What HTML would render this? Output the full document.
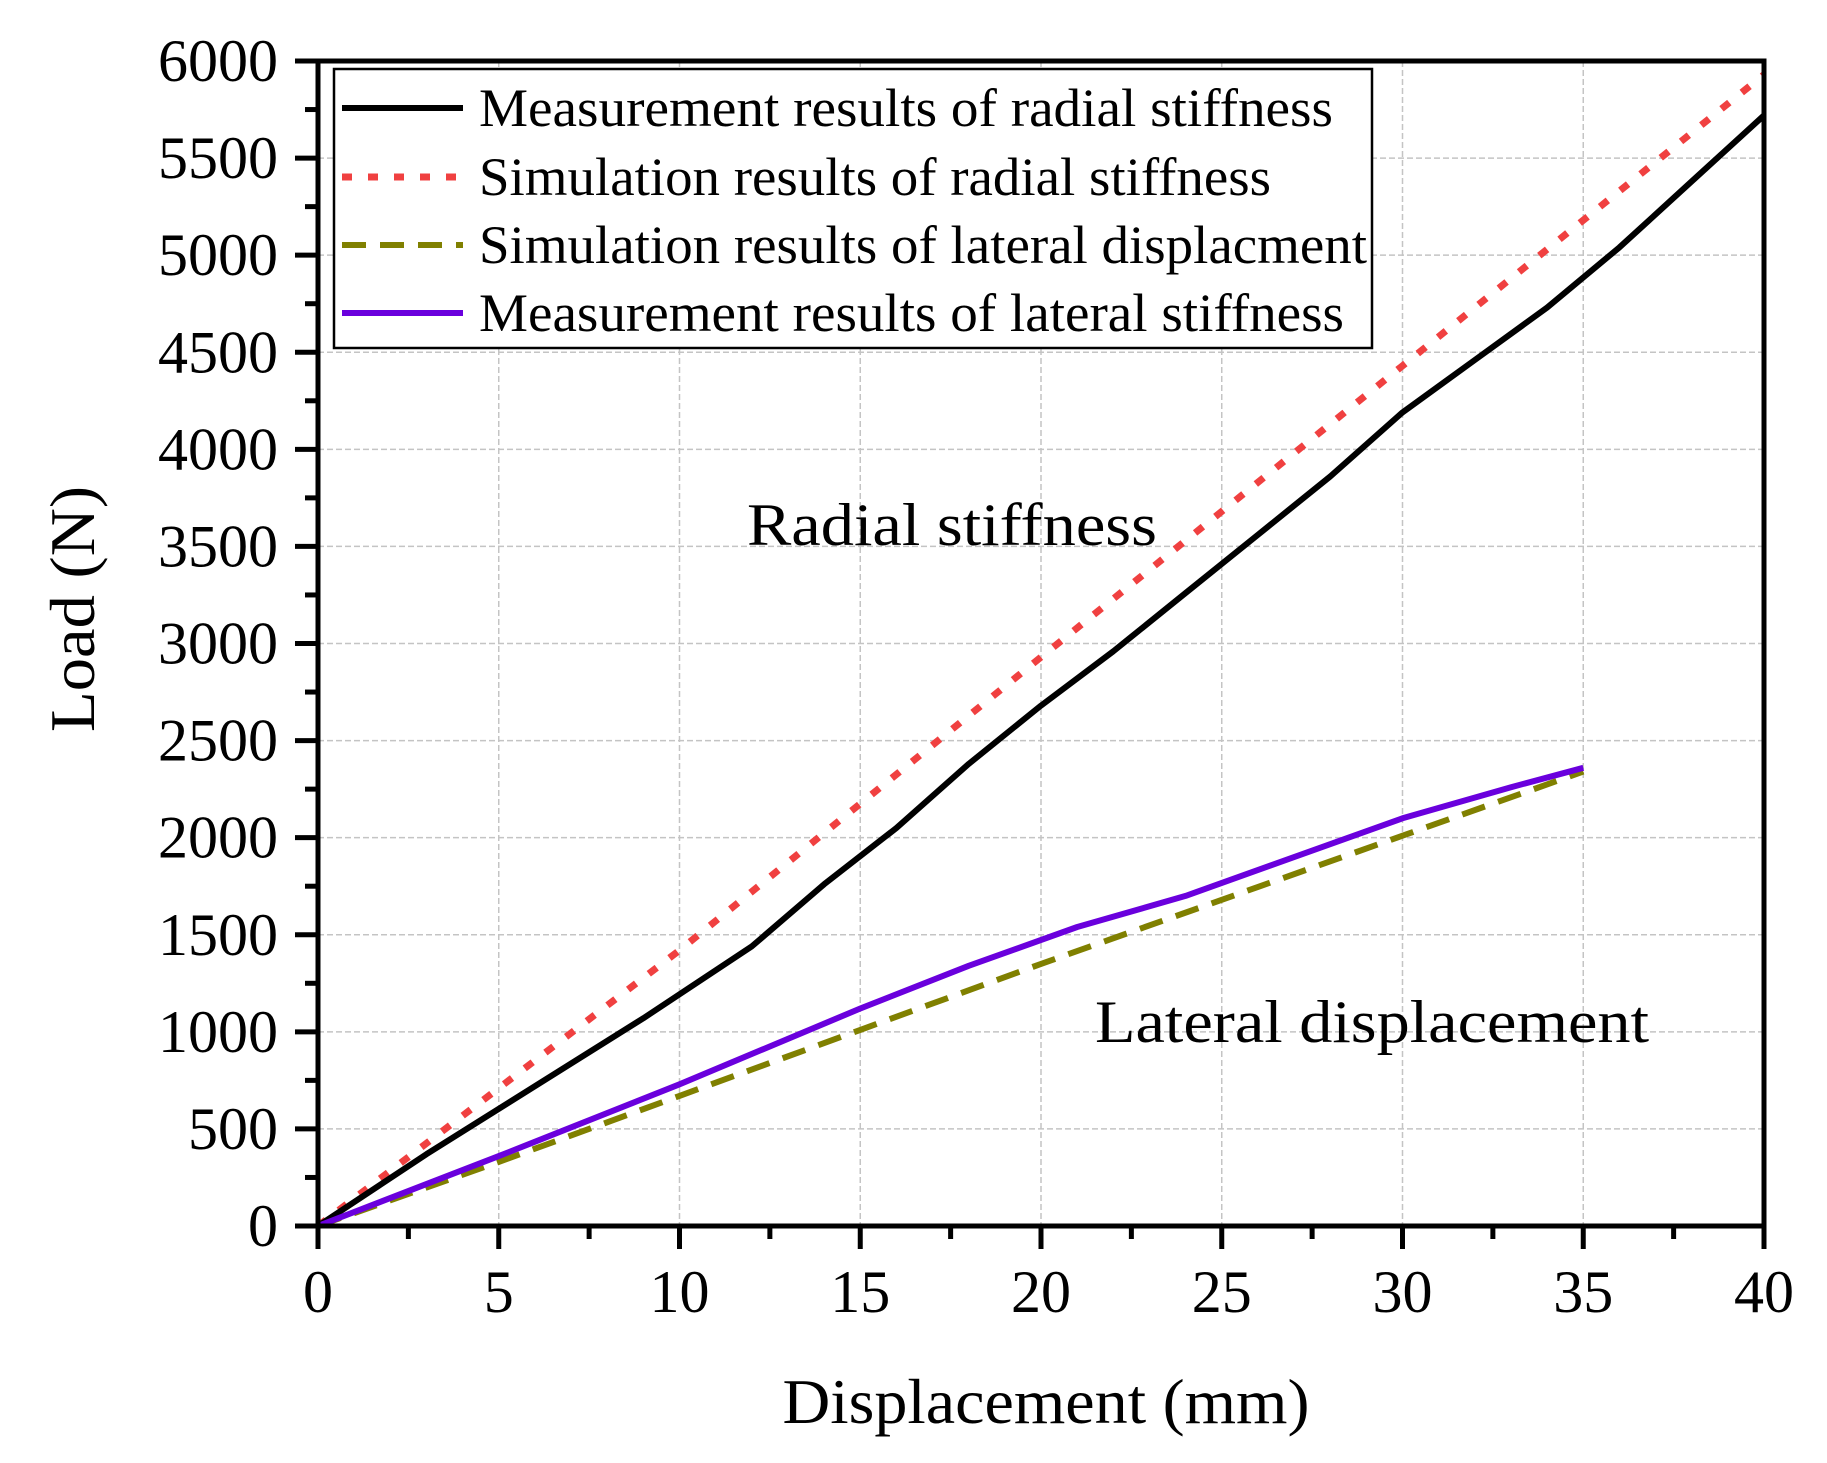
<!DOCTYPE html>
<html><head><meta charset="utf-8"><style>
html,body{margin:0;padding:0;background:#fff;}
svg{display:block;font-family:"Liberation Serif",serif;}
</style></head><body>
<svg id="chart" width="1827" height="1463" viewBox="0 0 1827 1463">
<g id="grid"></g>
<g id="series"></g>
<g id="axes"></g>
<g id="legend"></g>
<text x="747" y="545" font-size="60" textLength="410" lengthAdjust="spacingAndGlyphs">Radial stiffness</text>
<text x="1095" y="1042" font-size="60" textLength="554" lengthAdjust="spacingAndGlyphs">Lateral displacement</text>
<text x="1046" y="1423" font-size="64" text-anchor="middle" textLength="527" lengthAdjust="spacingAndGlyphs">Displacement (mm)</text>
<text transform="translate(94,609) rotate(-90)" font-size="64" text-anchor="middle" textLength="246" lengthAdjust="spacingAndGlyphs">Load (N)</text>
</svg>
<script>
const xTicks=[0,5,10,15,20,25,30,35,40];
const yTicks=[0,500,1000,1500,2000,2500,3000,3500,4000,4500,5000,5500,6000];
const radMeasX=[0,3,6,9,12,14,16,18,20,22,24,26,28,30,32,34,36,38,40];
const radMeasY=[0,370,720,1070,1440,1760,2050,2380,2680,2960,3260,3560,3860,4190,4460,4730,5040,5380,5720];
const radSimX=[0,10,20,30,40];
const radSimY=[0,1420,2930,4430,5930];
const latSimX=[0,5,10,15,20,25,30,35];
const latSimY=[0,330,670,1010,1350,1680,2010,2340];
const latMeasX=[0,5,10,15,18,21,24,27,30,33,35];
const latMeasY=[0,360,730,1120,1340,1540,1700,1900,2100,2260,2360];
const legendLabels=["Measurement results of radial stiffness","Simulation results of radial stiffness","Simulation results of lateral displacment","Measurement results of lateral stiffness"];

const L=318,R=1764,T=61,B=1226;
const sx=v=>L+(v-0)/(40-0)*(R-L);
const sy=v=>B-(v-0)/(6000-0)*(B-T);
const NS="http://www.w3.org/2000/svg";
function mk(tag,attrs,parent){const e=document.createElementNS(NS,tag);for(const k in attrs)e.setAttribute(k,attrs[k]);parent.appendChild(e);return e;}
const grid=document.getElementById('grid'),axes=document.getElementById('axes'),series=document.getElementById('series'),legend=document.getElementById('legend');

xTicks.forEach((t,i)=>{
  if(i>0&&i<xTicks.length-1){const g=mk('line',{x1:sx(t),x2:sx(t),y1:T,y2:B,stroke:'#c4c4c4','stroke-width':1.5,'stroke-dasharray':'6 3'},grid);
  
  }
  const tk=mk('line',{x1:sx(t),x2:sx(t),y1:B,y2:B+23,stroke:'#000','stroke-width':5},axes);
  
  
  if(i<xTicks.length-1){const m=mk('line',{x1:sx(t+2.5),x2:sx(t+2.5),y1:B,y2:B+13,stroke:'#000','stroke-width':5},axes);
  
  }
  const lb=mk('text',{x:sx(t),y:1312,'font-size':60,'text-anchor':'middle'},axes);
  lb.textContent=t;
  
  
});
yTicks.forEach((t,i)=>{
  if(i>0&&i<yTicks.length-1){const g=mk('line',{x1:L,x2:R,y1:sy(t),y2:sy(t),stroke:'#c4c4c4','stroke-width':1.5,'stroke-dasharray':'6 3'},grid);
  
  }
  const tk=mk('line',{x1:L-23,x2:L,y1:sy(t),y2:sy(t),stroke:'#000','stroke-width':5},axes);
  
  
  if(i<yTicks.length-1){const m=mk('line',{x1:L-13,x2:L,y1:sy(t+250),y2:sy(t+250),stroke:'#000','stroke-width':5},axes);
  
  }
  const lb=mk('text',{x:278,y:sy(t)+20,'font-size':60,'text-anchor':'end'},axes);
  lb.textContent=t;
  
  
});
const frame=mk('rect',{x:L,y:T,width:R-L,height:B-T,fill:'none',stroke:'#000','stroke-width':5},axes);



function line(xs,ys,style,name){
  const d=xs.map((x,i)=>(i?'L':'M')+sx(x).toFixed(1)+' '+sy(ys[i]).toFixed(1)).join(' ');
  const p=mk('path',Object.assign({d:d,fill:'none','stroke-linejoin':'round'},style),series);
  
  
}
const styles=[
 {stroke:'#000','stroke-width':6},
 {stroke:'#f04040','stroke-width':7,'stroke-dasharray':'10 16'},
 {stroke:'#808000','stroke-width':6,'stroke-dasharray':'24 14'},
 {stroke:'#6a00dd','stroke-width':6}
];
line(radSimX,radSimY,styles[1],'radial-simulation-line');
line(radMeasX,radMeasY,styles[0],'radial-measurement-line');
line(latSimX,latSimY,styles[2],'lateral-simulation-line');
line(latMeasX,latMeasY,styles[3],'lateral-measurement-line');

const lbox=mk('rect',{x:334,y:69,width:1038,height:279,fill:'#fff',stroke:'#000','stroke-width':2.5},legend);


const rowsY=[108,177,245,313];
const tl=[854,792,888,865];
legendLabels.forEach((s,i)=>{
  const ln=mk('line',Object.assign({x1:342,x2:463,y1:rowsY[i],y2:rowsY[i]},styles[i]),legend);
  
  
  const tx=mk('text',{x:479,y:rowsY[i]+18,'font-size':54,textLength:tl[i],lengthAdjust:'spacingAndGlyphs'},legend);
  tx.textContent=s;
  
  
});
</script>
</body></html>
